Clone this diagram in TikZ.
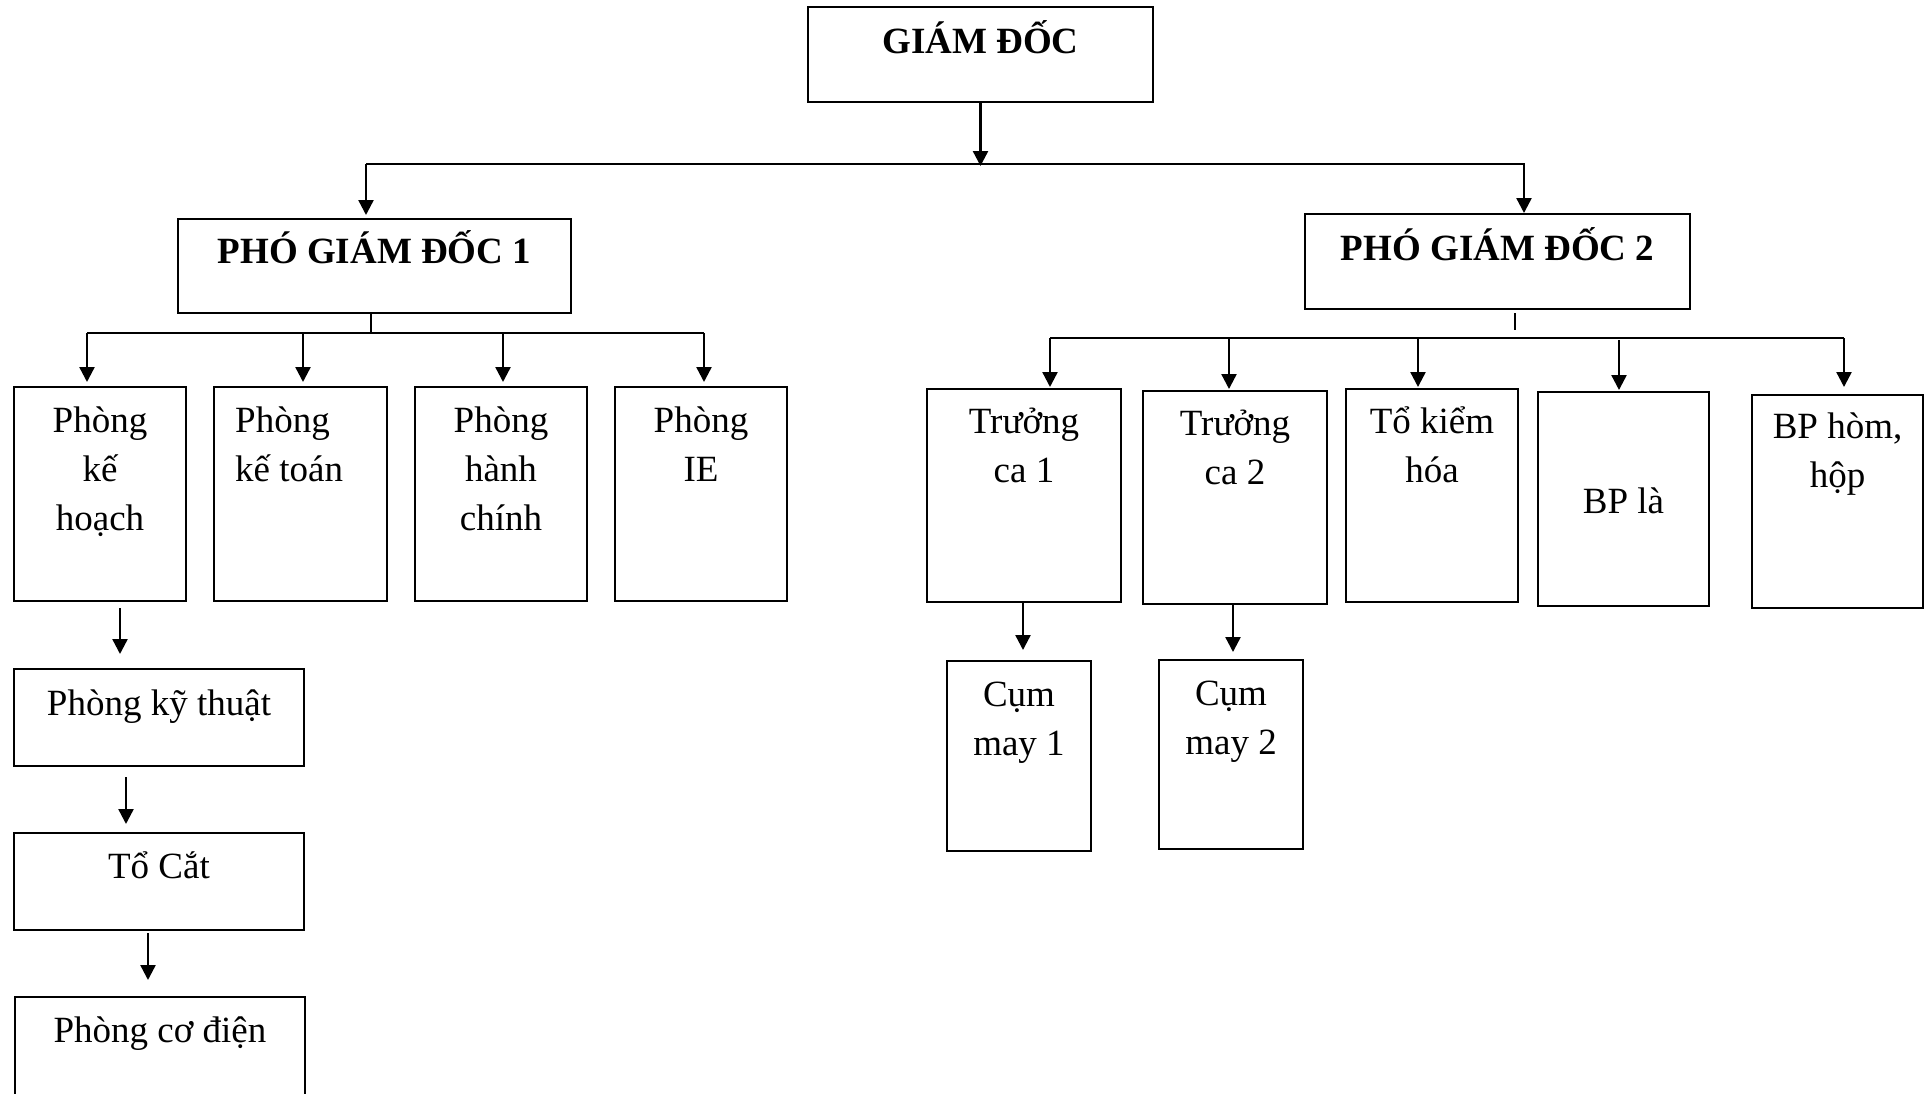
\documentclass[tikz,border=0pt]{standalone}
\usepackage{fontspec}
\setmainfont{Liberation Serif}
\usetikzlibrary{arrows.meta}

% stacked lines whose baseline is the first line
\newcommand\stk[1]{\begin{tabular}[t]{@{}c@{}}#1\end{tabular}}
\newcommand\stkl[1]{\begin{tabular}[t]{@{}l@{}}#1\end{tabular}}
% empty frame given by left, top, right, bottom
\newcommand\orgbox[5]{%
  \node[box, minimum width={(#4)-(#2)}, minimum height={(#5)-(#3)}]
    (#1) at ({((#2)+(#4))/2},{((#3)+(#5))/2}) {};}

\begin{document}
\begin{tikzpicture}[x=1pt, y=-1pt,
  box/.style={draw, rectangle, line width=2.2pt, inner sep=0pt, outer sep=0pt},
  lbl/.style={inner sep=0pt, font=\fontsize{37}{49}\selectfont},
  title/.style={inner sep=0pt, font=\fontsize{37}{49}\selectfont\bfseries},
  arr/.style={line width=2.4pt, -{Triangle[width=15pt,length=15pt]}},
  bus/.style={line width=2pt}]

\fill[white] (0,0) rectangle (1928,1093);
\useasboundingbox (0,0) rectangle (1928,1093);
\clip (0,0) rectangle (1928,1093);

% ---- frames
\orgbox{gd}{808}{7}{1153}{102}
\orgbox{pgd1}{178}{219}{571}{313}
\orgbox{pgd2}{1305}{214}{1690}{309}
\orgbox{khoach}{14}{387}{186}{601}
\orgbox{ketoan}{214}{387}{387}{601}
\orgbox{hchinh}{415}{387}{587}{601}
\orgbox{ie}{615}{387}{787}{601}
\orgbox{kythuat}{14}{669}{304}{766}
\orgbox{tocat}{14}{833}{304}{930}
\orgbox{codien}{15}{997}{305}{1130}
\orgbox{tca1}{927}{389}{1121}{602}
\orgbox{tca2}{1143}{391}{1327}{604}
\orgbox{kiemhoa}{1346}{389}{1518}{602}
\orgbox{bpla}{1538}{392}{1709}{606}
\orgbox{bphom}{1752}{395}{1923}{608}
\orgbox{cum1}{947}{661}{1091}{851}
\orgbox{cum2}{1159}{660}{1303}{849}

% ---- labels
\node[title, anchor=base] (gd-t) at (980.5,53) {GIÁM ĐỐC};
\node[title, anchor=base] (pgd1-t) at (374.5,263) {PHÓ GIÁM ĐỐC 1};
\node[title, anchor=base] (pgd2-t) at (1497.5,260) {PHÓ GIÁM ĐỐC 2};
\node[lbl, anchor=base] (khoach-t) at (100,432) {\stk{Phòng\\kế\\hoạch}};
\node[lbl, anchor=base west] (ketoan-t) at (235,432) {\stkl{Phòng\\kế toán}};
\node[lbl, anchor=base] (hchinh-t) at (501,432) {\stk{Phòng\\hành\\chính}};
\node[lbl, anchor=base] (ie-t) at (701,432) {\stk{Phòng\\IE}};
\node[lbl, anchor=base] (kythuat-t) at (159,715) {Phòng kỹ thuật};
\node[lbl, anchor=base] (tocat-t) at (159,878) {Tổ Cắt};
\node[lbl, anchor=base] (codien-t) at (160,1042) {Phòng cơ điện};
\node[lbl, anchor=base] (tca1-t) at (1024,433) {\stk{Trưởng\\ca 1}};
\node[lbl, anchor=base] (tca2-t) at (1235,435) {\stk{Trưởng\\ca 2}};
\node[lbl, anchor=base] (kiemhoa-t) at (1432,433) {\stk{Tổ kiểm\\hóa}};
\node[lbl, anchor=base] (bpla-t) at (1623.5,513) {BP là};
\node[lbl, anchor=base] (bphom-t) at (1837.5,438) {\stk{BP hòm,\\hộp}};
\node[lbl, anchor=base] (cum1-t) at (1019,706) {\stk{Cụm\\may 1}};
\node[lbl, anchor=base] (cum2-t) at (1231,705) {\stk{Cụm\\may 2}};

% ---- top level bus
\coordinate (busL) at (366,164);
\coordinate (busM) at (980.5,164);
\coordinate (busR) at (1524,164);
\draw[bus] (busL) -- ([xshift=1pt]busR);
\draw[arr, shorten >=-2pt] (gd.south) -- (busM);
\draw[arr, shorten >=4pt] (busL) -- (busL |- pgd1.north);
\draw[arr, shorten >=1pt] (busR) -- (busR |- pgd2.north);

% ---- first deputy branch
\coordinate (s1) at (371,333);
\draw[bus] ([yshift=-1pt]pgd1.south -| s1) -- (s1);
\coordinate (b1a) at (87,333);
\coordinate (b1b) at (303,333);
\coordinate (b1c) at (503,333);
\coordinate (b1d) at (704,333);
\draw[bus] (b1a) -- (b1d);
\draw[arr, shorten >=5pt] (b1a) -- (b1a |- khoach.north);
\draw[arr, shorten >=5pt] (b1b) -- (b1b |- ketoan.north);
\draw[arr, shorten >=5pt] (b1c) -- (b1c |- hchinh.north);
\draw[arr, shorten >=5pt] (b1d) -- (b1d |- ie.north);

% ---- second deputy branch
\coordinate (s2) at (1515,330);
\draw[bus] ([yshift=-4pt]pgd2.south -| s2) -- (s2);
\coordinate (b2a) at (1050,338);
\coordinate (b2b) at (1229,338);
\coordinate (b2c) at (1418,338);
\coordinate (b2d) at (1619,338);
\coordinate (b2e) at (1844,338);
\draw[bus] (b2a) -- (b2e);
\draw[arr, shorten >=2pt] (b2a) -- (b2a |- tca1.north);
\draw[arr, shorten >=2pt] (b2b) -- (b2b |- tca2.north);
\draw[arr, shorten >=2pt] (b2c) -- (b2c |- kiemhoa.north);
\draw[arr, shorten <=2pt, shorten >=2pt] (b2d) -- (b2d |- bpla.north);
\draw[arr, shorten >=8pt] (b2e) -- (b2e |- bphom.north);

% ---- chains below
\coordinate (d1) at ([xshift=20pt]khoach.south);
\coordinate (d2) at ([xshift=-33pt]kythuat.south);
\coordinate (d3) at ([xshift=-11pt]tocat.south);
\coordinate (d4) at ([xshift=-1pt]tca1.south);
\coordinate (d5) at ([xshift=-2pt]tca2.south);
\draw[arr, shorten <=7pt, shorten >=15pt] (d1) -- (d1 |- kythuat.north);
\draw[arr, shorten <=11pt, shorten >=9pt] (d2) -- (d2 |- tocat.north);
\draw[arr, shorten <=3pt, shorten >=17pt] (d3) -- (d3 |- codien.north);
\draw[arr, shorten >=11pt] (d4) -- (d4 |- cum1.north);
\draw[arr, shorten >=8pt] (d5) -- (d5 |- cum2.north);

\end{tikzpicture}
\end{document}
